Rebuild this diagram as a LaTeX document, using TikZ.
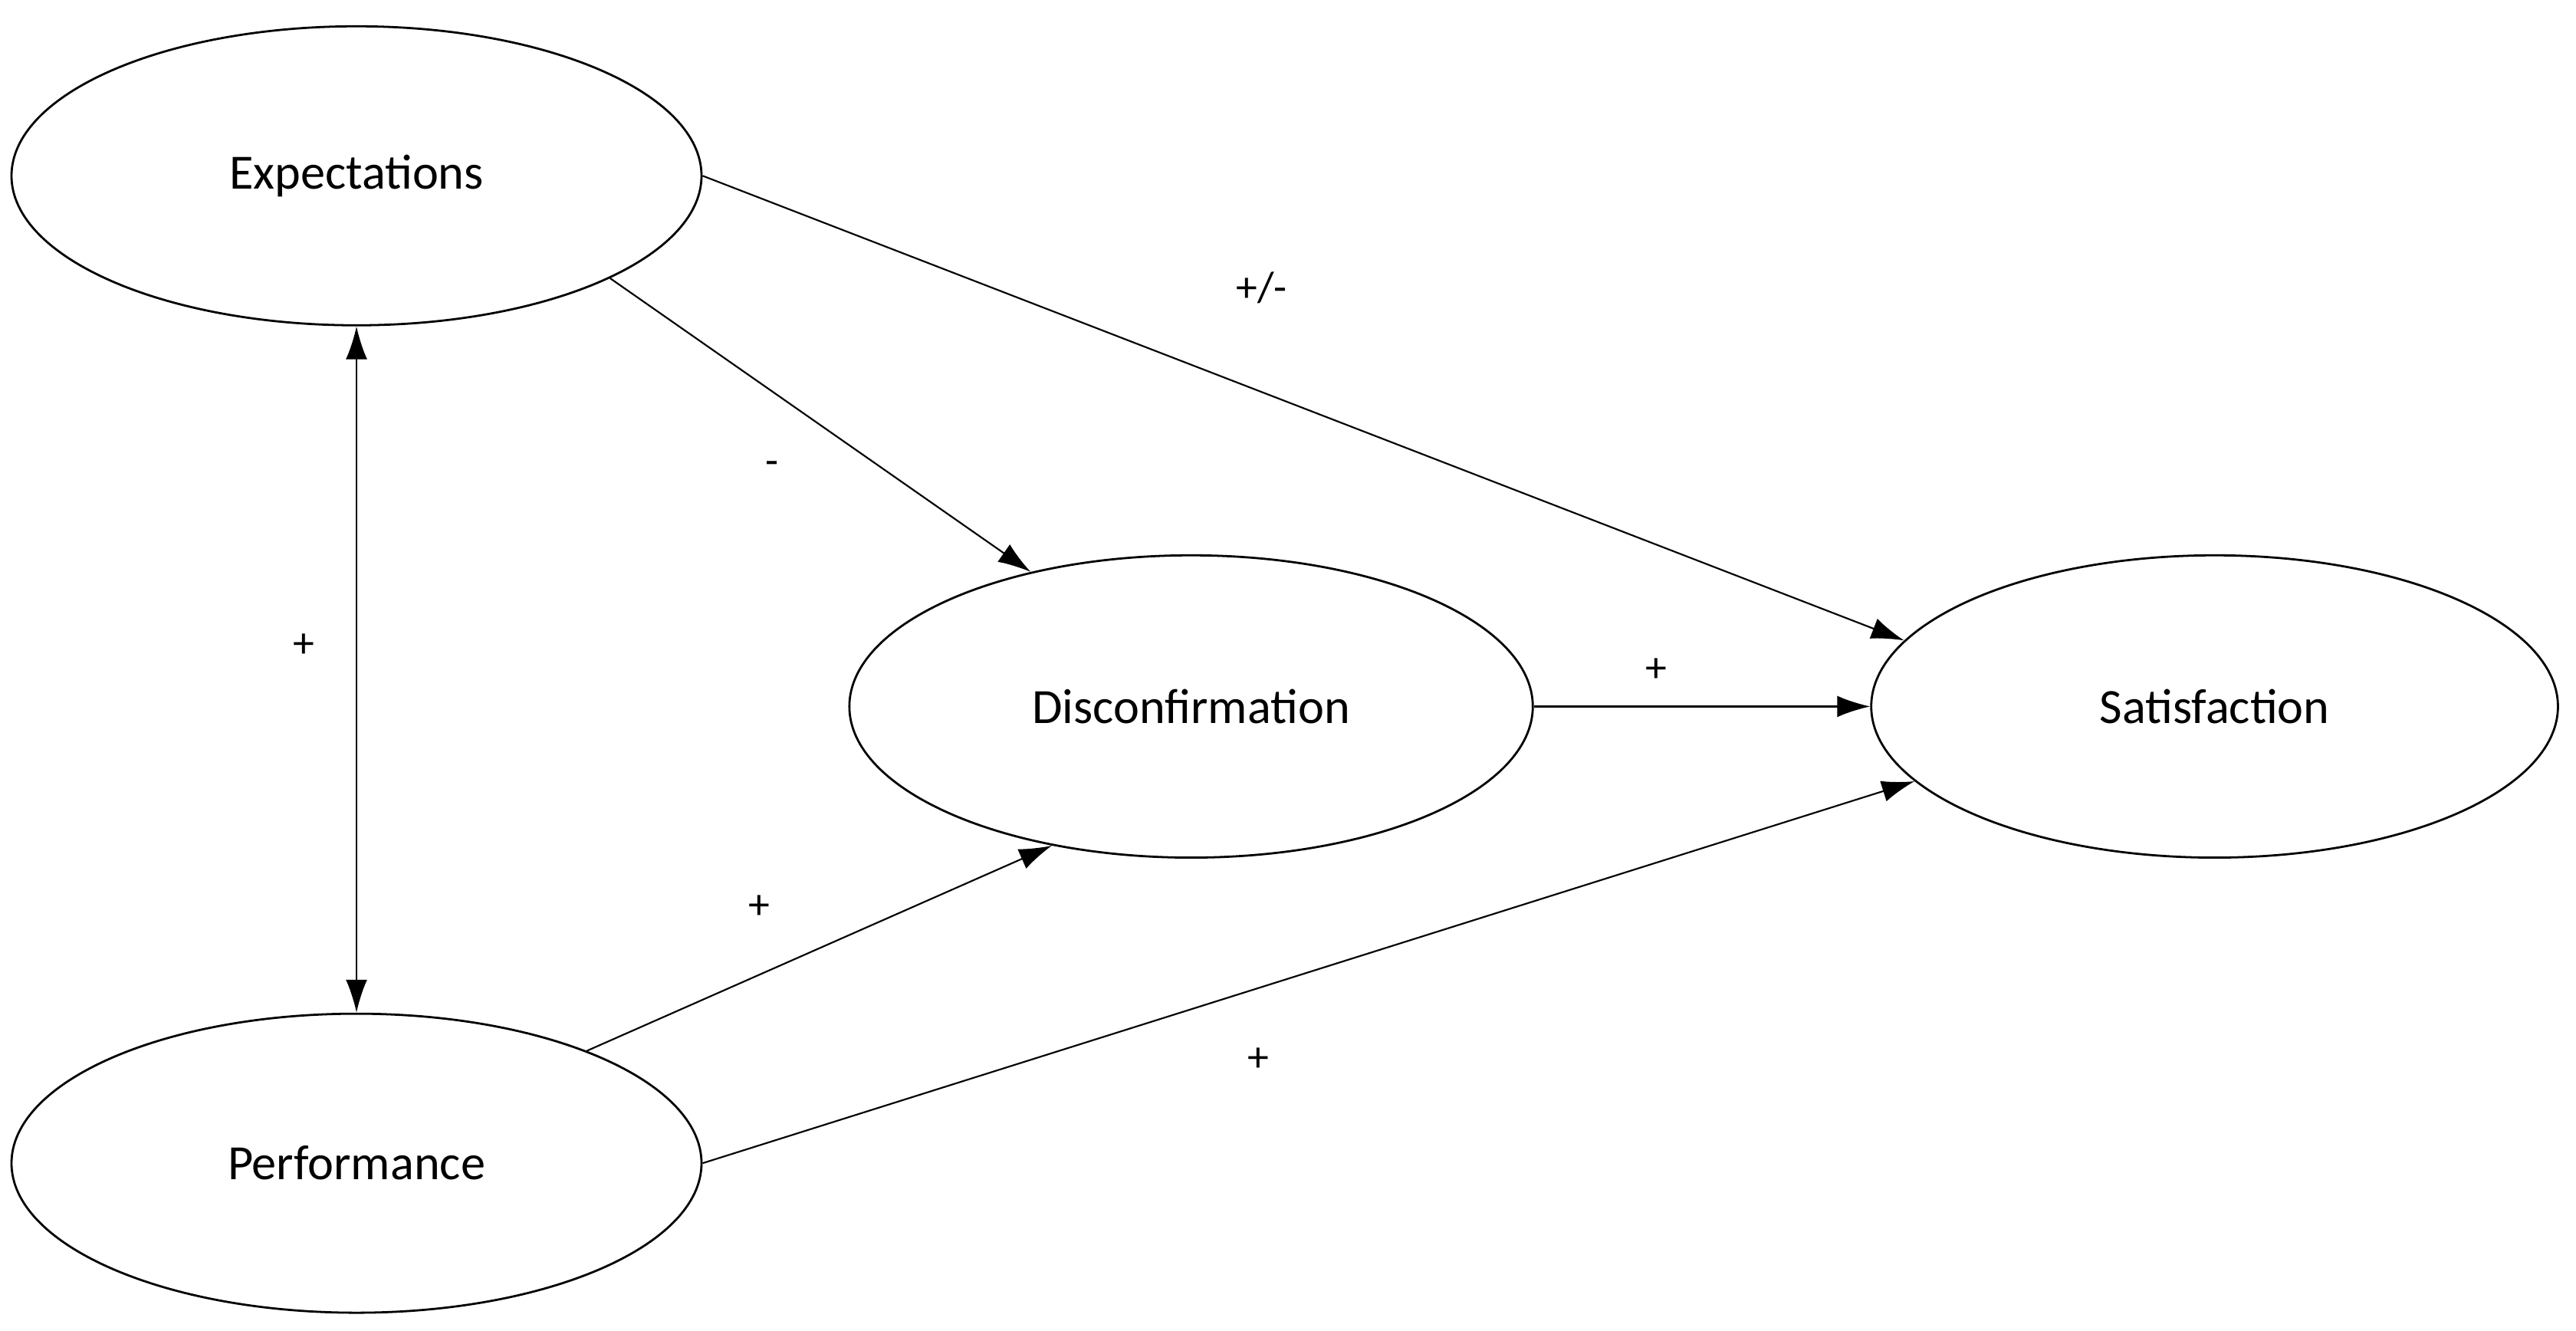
\documentclass[tikz,border=0pt]{standalone}
\usepackage{fontspec}
\setmainfont{Carlito}
\usetikzlibrary{shapes.geometric,arrows.meta}
\begin{document}
\begin{tikzpicture}[x=1pt,y=-1pt,
  el/.style={draw,ellipse,line width=1.3pt,inner sep=0pt,font=\fontsize{30}{34}\selectfont},
  ar/.style={line width=1pt,-{Latex[length=20pt,width=13pt]}},
  lab/.style={font=\fontsize{26}{30}\selectfont}]
\useasboundingbox (0,0) rectangle (1568,810);
\node[el,minimum width=420,minimum height=182] (e) at (217,107) {Expectations};
\node[el,minimum width=420,minimum height=182] (p) at (217,708) {Performance};
\node[el,minimum width=416,minimum height=184] (d) at (725,430) {Disconfirmation};
\node[el,minimum width=418,minimum height=184] (s) at (1348,430) {Satisfaction};
\draw[ar] (e.east) -- (s.168);
\draw[ar] (e.-22) -- (d.140);
\draw[ar] (d.east) -- (s.west);
\draw[ar] (p.26) -- (d.225);
\draw[ar] (p.east) -- (s.194);
\draw[ar,{Latex[length=20pt,width=13pt]}-{Latex[length=20pt,width=13pt]}] (e.south) -- (p.north);
\node[lab] (l1) at (768,175) {+/-};
\node[lab] (l2) at (470,285) {-};
\node[lab] (l3) at (185,393) {+};
\node[lab] (l4) at (1008,408) {+};
\node[lab] (l5) at (462,552) {+};
\node[lab] (l6) at (766,645) {+};
\end{tikzpicture}
\end{document}
